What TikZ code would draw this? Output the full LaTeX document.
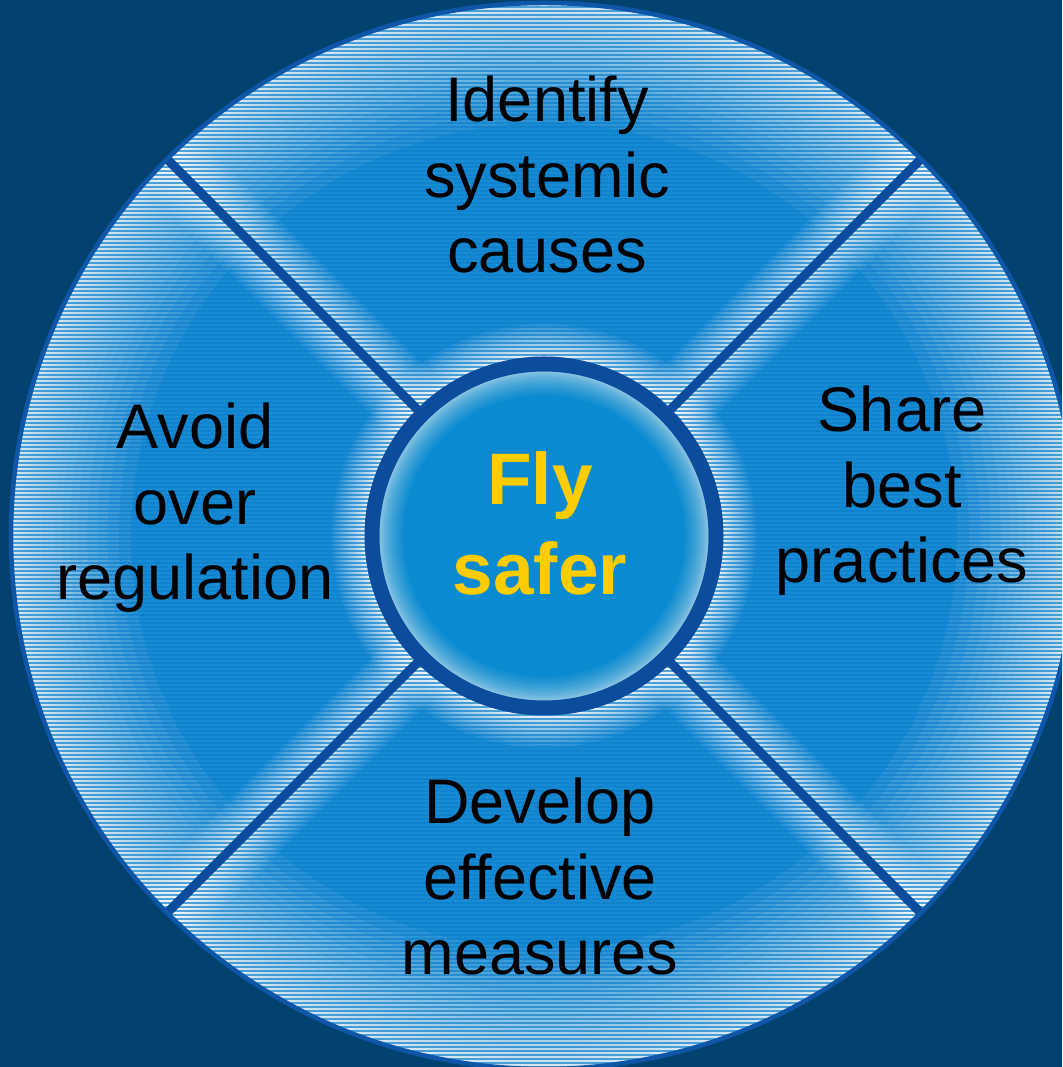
\documentclass[tikz,border=0pt]{standalone}
\usepackage{fontspec}
\setmainfont{Liberation Sans}
\usetikzlibrary{calc}
\definecolor{bgnavy}{HTML}{03426F}
\definecolor{sectorblue}{HTML}{168AD3}
\definecolor{stripeblue}{HTML}{1080CB}
\definecolor{dividerblue}{HTML}{0B4C9C}
\definecolor{discblue}{HTML}{0A8AD0}
\definecolor{rimblue}{HTML}{0E56A8}
\definecolor{flyyellow}{HTML}{FFCC00}
% #1 path, #2 max half width, #3 opacity of each stroke
\newcommand\glowstroke[3]{%
  \foreach \i in {1,...,24}{%
    \pgfmathsetmacro\lw{2*#2*(\i/24)^2.5}%
    \draw[white,opacity=#3,line width=\lw pt] #1;}}
\begin{document}
\begin{tikzpicture}[x=1pt,y=1pt,
  sectorlabel/.style={font=\fontsize{63}{75.5}\selectfont, align=center, anchor=base, inner sep=0pt, text=black},
  centerlabel/.style={font=\fontsize{73}{90}\selectfont\bfseries, align=center, anchor=base, inner sep=0pt, text=flyyellow},
  dividerline/.style={dividerblue, line width=9pt},
  ringline/.style={dividerblue, line width=15pt},
  rimline/.style={rimblue, line width=4.5pt}]
\useasboundingbox (0,0) rectangle (1062,1067);
\clip (0,0) rectangle (1062,1067);
\fill[bgnavy] (0,0) rectangle (1062,1067);
\coordinate (C) at (544,531);
\begin{scope}
  \clip (C) circle[radius=533];
  \fill[sectorblue] (C) circle[radius=533];
  \glowstroke{(C) circle[radius=533]}{120}{0.09}
  \glowstroke{($(C)+(45:600)$) -- ($(C)+(225:600)$)}{36}{0.1}
  \glowstroke{($(C)+(135:600)$) -- ($(C)+(315:600)$)}{36}{0.1}
  \glowstroke{(C) circle[radius=180]}{32}{0.1}
  \foreach \y in {0,4,...,1068} \draw[stripeblue,opacity=.7,line width=1.7pt] (0,\y) -- (1062,\y);
\end{scope}
\foreach \a in {45,135,225,315}
  \draw[dividerline] ($(C)+(\a:170)$) -- ($(C)+(\a:533)$);
\fill[discblue] (C) circle[radius=172];
\begin{scope}
  \clip (C) circle[radius=165];
  \glowstroke{(C) circle[radius=165]}{24}{0.045}
\end{scope}
\draw[ringline] (C) circle[radius=172];
\draw[rimline] (C) circle[radius=533];
\node[sectorlabel] (top) at (547,794) {Identify\\systemic\\causes};
\node[sectorlabel] (left) at (195,467) {Avoid\\over\\regulation};
\node[sectorlabel] (right) at (902,484) {Share\\best\\practices};
\node[sectorlabel] (bottom) at (540,92) {Develop\\effective\\measures};
\node[centerlabel] (fly) at (540,472) {Fly\\safer};
\end{tikzpicture}
\end{document}
